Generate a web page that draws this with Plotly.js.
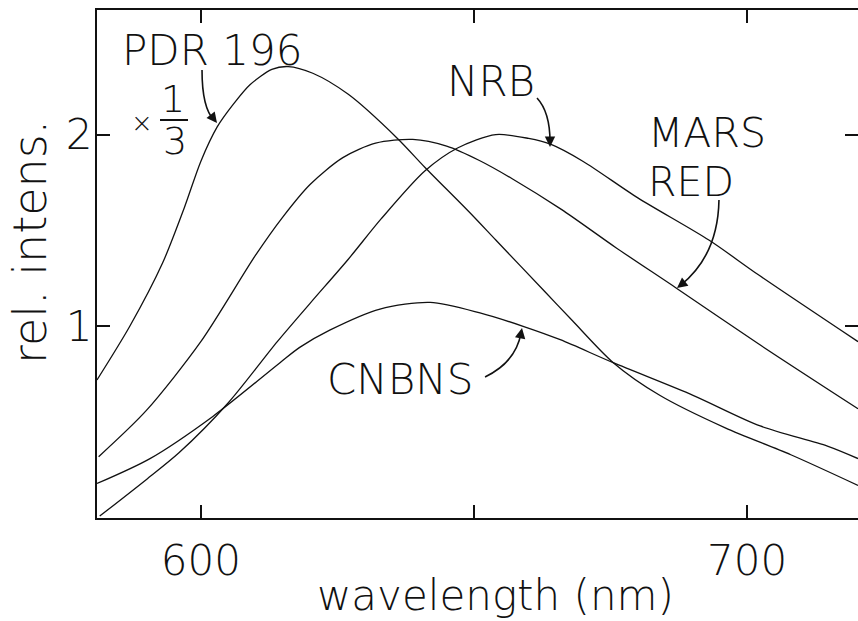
<!DOCTYPE html>
<html>
<head>
<meta charset="utf-8">
<script src="https://cdn.plot.ly/plotly-3.0.1.min.js"></script>
<style>html,body{margin:0;padding:0;background:#fff;}#chart{width:858px;height:621px;}</style>
</head>
<body>
<div id="chart"></div>
<script>
// ---- data (wavelength nm, relative intensity) ----
const pdrX = [581, 587, 593, 597, 600, 603, 606, 609, 613, 616, 620.5, 627, 636, 641, 649, 654, 663, 668, 675.5, 684, 696, 708, 720.3];
const pdrY = [0.72, 1.00, 1.33, 1.62, 1.86, 2.04, 2.16, 2.26, 2.34, 2.355, 2.32, 2.21, 1.98, 1.83, 1.60, 1.45, 1.18, 1.03, 0.81, 0.64, 0.47, 0.33, 0.17];

const marsX = [581.3, 590, 600, 610, 615, 620, 626, 632, 638.8, 645, 651, 657, 666, 676, 687, 702, 720.3];
const marsY = [0.32, 0.56, 0.92, 1.37, 1.57, 1.74, 1.88, 1.955, 1.975, 1.94, 1.865, 1.77, 1.61, 1.41, 1.20, 0.91, 0.57];

const nrbX = [581.5, 590, 596, 605, 614, 620, 627, 633, 641, 647, 654, 660, 664, 670, 680, 693, 702, 720.3];
const nrbY = [0.01, 0.20, 0.34, 0.60, 0.92, 1.12, 1.35, 1.56, 1.81, 1.93, 2.00, 1.98, 1.95, 1.86, 1.67, 1.45, 1.27, 0.92];

const cnbnsX = [581, 590.7, 602.2, 614.5, 618.1, 623.6, 632.8, 642, 651.1, 659, 665.8, 675.5, 690.1, 702.4, 714.7, 720.3];
const cnbnsY = [0.18, 0.31, 0.53, 0.81, 0.89, 0.98, 1.09, 1.125, 1.07, 1.00, 0.93, 0.81, 0.64, 0.48, 0.375, 0.31];

const xTickVals = [600, 650, 700];
const xTickText = ['600', '', '700'];
const yTickVals = [1, 2];
const yTickText = ['1', '2'];

// ---- styling ----
const FONT = 'DejaVu Sans, Liberation Sans, sans-serif';
const ink = '#111';
const lineStyle = {color: ink, width: 1.3, shape: 'spline', smoothing: 0.8};

function series(x, y, name) {
  return {x: x, y: y, name: name, type: 'scatter', mode: 'lines', line: lineStyle, hoverinfo: 'x+y+name'};
}

const traces = [
  series(pdrX, pdrY, 'PDR 196 ×1/3'),
  series(marsX, marsY, 'MARS RED'),
  series(nrbX, nrbY, 'NRB'),
  series(cnbnsX, cnbnsY, 'CNBNS')
];

// layout helpers: pixel position in the 858x621 picture -> paper fraction
const L = 97, R = 858, T = 10, B = 518;
const fx = px => (px - L) / (R - L);
const fy = py => (B - py) / (B - T);
function P(px, py) { return fx(px).toFixed(4) + ',' + fy(py).toFixed(4); }

function label(text, px, py, size, extra) {
  return Object.assign({
    xref: 'paper', yref: 'paper', x: fx(px), y: fy(py), text: text,
    showarrow: false, xanchor: 'center', yanchor: 'middle',
    font: {family: FONT, size: size, color: ink, weight: 300}
  }, extra || {});
}
function head(px, py, ax, ay) {
  return {xref: 'paper', yref: 'paper', x: fx(px), y: fy(py), text: '',
    showarrow: true, arrowhead: 2, arrowsize: 1.3, arrowwidth: 1.6,
    arrowcolor: ink, ax: ax, ay: ay};
}
function curve(p0, c, p1) {
  return {type: 'path', xref: 'paper', yref: 'paper',
    path: 'M ' + P(p0[0], p0[1]) + ' Q ' + P(c[0], c[1]) + ' ' + P(p1[0], p1[1]),
    line: {color: ink, width: 1.6}};
}

const annotations = [
  label('PDR 196', 212, 51, 42),
  label('×', 142, 123, 26),
  label('1', 173, 99, 38),
  label('3', 175, 141, 38),
  label('NRB', 491, 82, 42),
  label('MARS', 646, 133, 41, {xanchor: 'left'}),
  label('RED', 646, 182, 41, {xanchor: 'left'}),
  label('CNBNS', 400, 379, 42),
  label('wavelength (nm)', 496, 595, 42),
  label('rel. intens.', 30, 242, 46, {textangle: -90}),
  head(217, 123, -7, -9),
  head(550, 147, 0, -11),
  head(677, 288, 9, -7),
  head(522, 328, -2, 11)
];

const shapes = [
  {type: 'line', xref: 'paper', yref: 'paper', x0: fx(160), x1: fx(188), y0: fy(120), y1: fy(120), line: {color: ink, width: 2}},
  curve([202, 70], [202, 108], [214, 120]),
  curve([537, 98], [550, 112], [550, 142]),
  curve([719, 200], [718, 255], [681, 285]),
  curve([485, 377], [516, 362], [521, 333])
];

const axisCommon = {
  ticks: 'inside', ticklen: 13, tickwidth: 2, tickcolor: ink,
  showline: true, linewidth: 2, linecolor: ink, mirror: 'ticks',
  showgrid: false, zeroline: false,
  tickfont: {family: FONT, size: 42, color: ink, weight: 300}
};

const layout = {
  width: 858, height: 621,
  margin: {l: L, r: 858 - R, t: T, b: 621 - B},
  paper_bgcolor: '#fff', plot_bgcolor: '#fff',
  showlegend: false,
  xaxis: Object.assign({}, axisCommon, {range: [581, 720.3], tickmode: 'array', tickvals: xTickVals, ticktext: xTickText, ticklabelstandoff: 5}),
  yaxis: Object.assign({}, axisCommon, {range: [0, 2.65], tickmode: 'array', tickvals: yTickVals, ticktext: yTickText, ticklabelstandoff: -6}),
  annotations: annotations,
  shapes: shapes
};

Plotly.newPlot('chart', traces, layout, {displayModeBar: false, staticPlot: true});
</script>
</body>
</html>
